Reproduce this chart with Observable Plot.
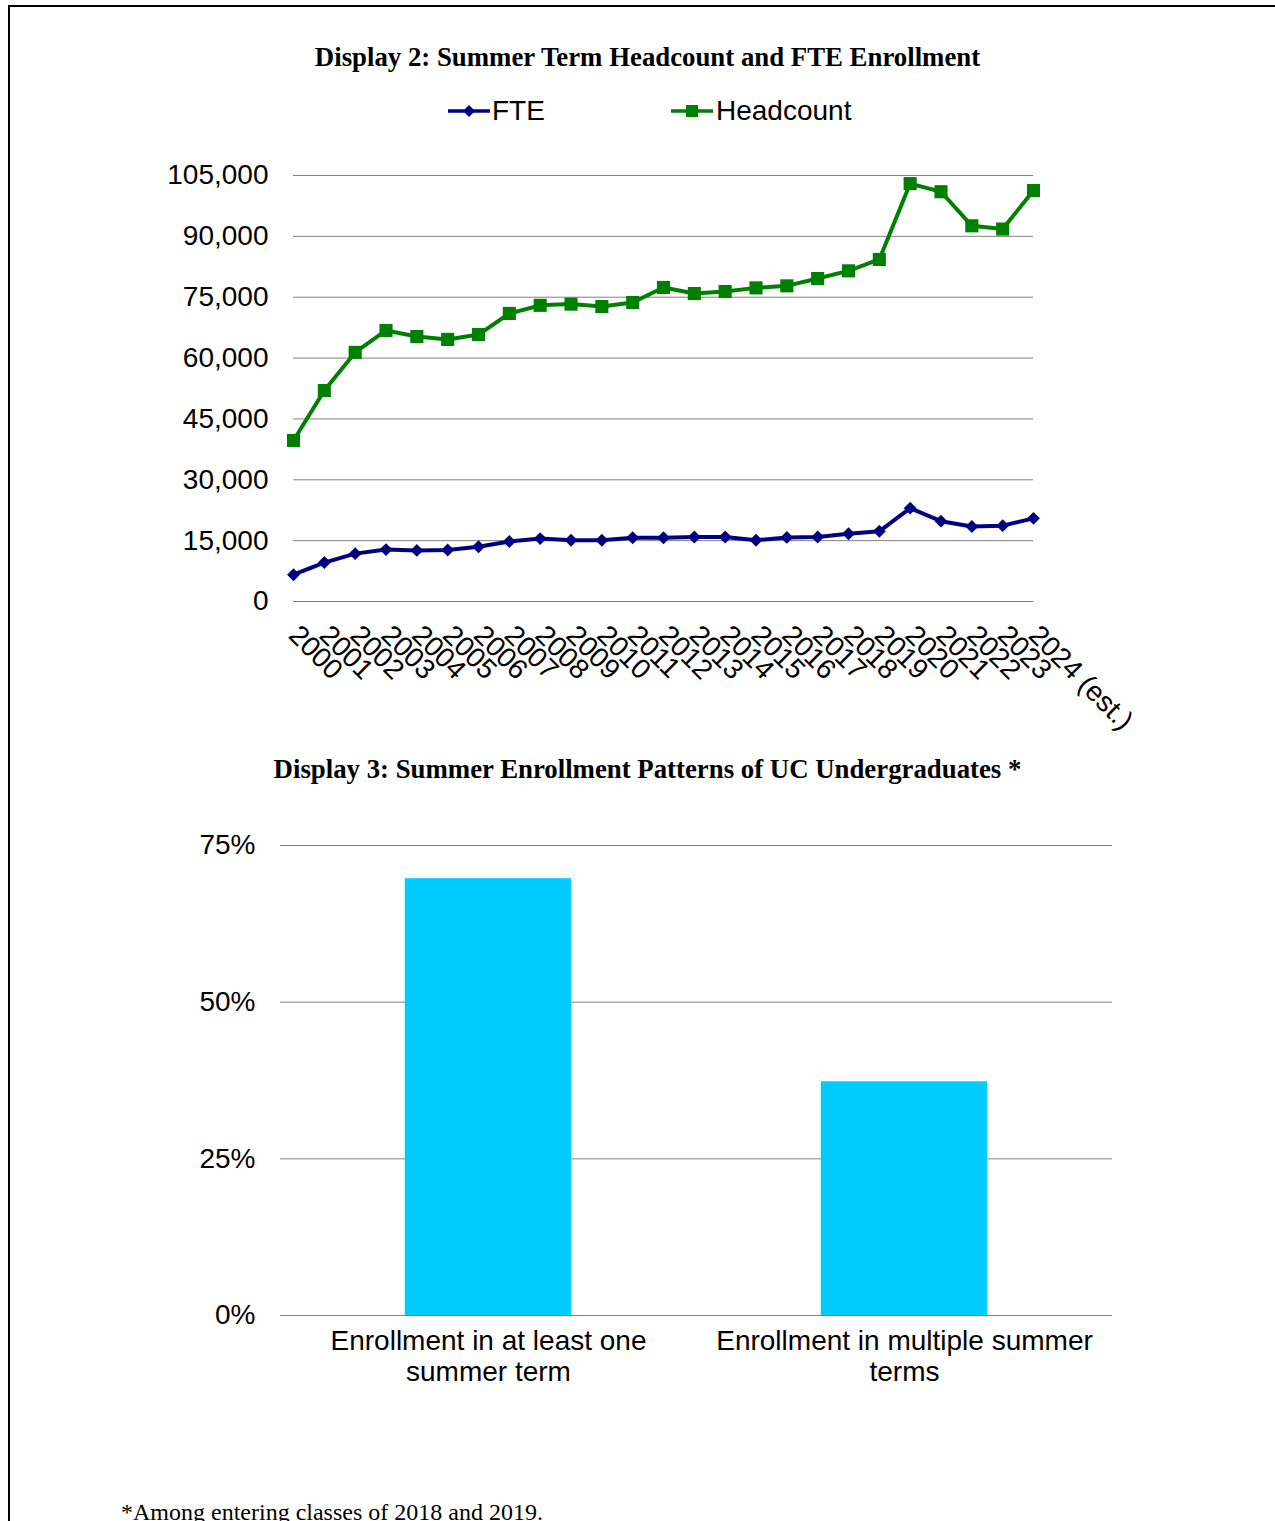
<!DOCTYPE html>
<html>
<head>
<meta charset="utf-8">
<script src="https://cdn.jsdelivr.net/npm/d3@7"></script>
<script src="https://cdn.jsdelivr.net/npm/@observablehq/plot@0.6"></script>
<style>
  body { margin: 0; background: #fff; }
  #page { position: relative; width: 1275px; height: 1521px; overflow: hidden; background: #fff; }
  .title { position: absolute; left: 10px; width: 1275px; text-align: center;
           font-family: "Liberation Serif", "Times New Roman", serif; font-weight: bold;
           font-size: 26.8px; line-height: 1; color: #000; white-space: nowrap; }
  .legtext { position: absolute; font-family: "Liberation Sans", Arial, sans-serif; font-size: 28px;
             line-height: 1; color: #000; white-space: nowrap; }
  .swatch { position: absolute; }
  .chart { position: absolute; left: 0; }
  #foot { position: absolute; left: 121px; top: 1500px; font-family: "Liberation Serif", "Times New Roman", serif;
          font-size: 24px; line-height: 1; color: #000; white-space: nowrap; }
  .bline { position: absolute; background: #000; }
</style>
</head>
<body>
<div id="page">
  <div class="bline" style="left:8px;top:5px;width:1267px;height:2px;"></div>
  <div class="bline" style="left:8px;top:5px;width:2px;height:1516px;"></div>

  <div class="title" style="top:44px;">Display 2: Summer Term Headcount and FTE Enrollment</div>

  <svg class="swatch" style="left:448px;top:101px;" width="44" height="20">
    <line x1="0" y1="10" x2="42" y2="10" stroke="#000080" stroke-width="3.5"/>
    <path d="M21,4 L27,10 L21,16 L15,10 Z" fill="#000080"/>
  </svg>
  <div class="legtext" style="left:492px;top:97px;">FTE</div>
  <svg class="swatch" style="left:671px;top:101px;" width="44" height="20">
    <line x1="0" y1="10" x2="42" y2="10" stroke="#008000" stroke-width="3.5"/>
    <rect x="15" y="4" width="12" height="12" fill="#008000"/>
  </svg>
  <div class="legtext" style="left:716px;top:97px;">Headcount</div>

  <div id="chart1" class="chart" style="top:150px;"></div>

  <div class="title" style="top:756px;">Display 3: Summer Enrollment Patterns of UC Undergraduates *</div>

  <div id="chart2" class="chart" style="top:800px;"></div>

  <div id="foot">*Among entering classes of 2018 and 2019.</div>
</div>

<script>
// ---- Display 2 data ----
const years = ["2000","2001","2002","2003","2004","2005","2006","2007","2008","2009","2010","2011","2012",
               "2013","2014","2015","2016","2017","2018","2019","2020","2021","2022","2023","2024 (est.)"];
const headcount = [39700, 52000, 61400, 66800, 65300, 64600, 65800, 71000, 73000, 73300, 72700, 73700, 77400,
                   75900, 76400, 77300, 77800, 79600, 81500, 84300, 103000, 101000, 92600, 91800, 101300];
const fte = [6600, 9600, 11800, 12800, 12600, 12700, 13500, 14800, 15500, 15100, 15100, 15700, 15700,
             15900, 15900, 15100, 15800, 15900, 16700, 17300, 23000, 19800, 18500, 18700, 20500];
const yTicks1 = [0, 15000, 30000, 45000, 60000, 75000, 90000, 105000];

// ---- Display 3 data ----
const categories = ["Enrollment in at least one summer term", "Enrollment in multiple summer terms"];
const categoryLabels = ["Enrollment in at least one\nsummer term", "Enrollment in multiple summer\nterms"];
const shares = [0.697, 0.373];
const yTicks2 = [0, 0.25, 0.5, 0.75];

const fteData = years.map((y, i) => ({year: y, value: fte[i]}));
const hcData = years.map((y, i) => ({year: y, value: headcount[i]}));
const barData = categories.map((c, i) => ({cat: c, value: shares[i]}));

const baseStyle = {background: "transparent", fontFamily: "'Liberation Sans', Arial, sans-serif",
                   fontSize: "28px", color: "#000", overflow: "visible"};

const chart1 = Plot.plot({
  width: 1275, height: 620,
  marginTop: 25, marginBottom: 169, marginLeft: 293, marginRight: 242,
  style: baseStyle,
  x: {type: "point", domain: years, padding: 0, round: false, label: null},
  y: {domain: [0, 105000], label: null},
  marks: [
    Plot.gridY({ticks: yTicks1, stroke: "#808080", strokeOpacity: 1, strokeWidth: 1}),
    Plot.axisY({ticks: yTicks1, tickSize: 0, tickPadding: 25, tickFormat: d3.format(","), fill: "#000", label: null}),
    Plot.axisX({tickSize: 0, tickPadding: 29, tickRotate: 45, fill: "#000", label: null}),
    Plot.line(fteData, {x: "year", y: "value", stroke: "#000080", strokeWidth: 4}),
    Plot.dot(fteData, {x: "year", y: "value", symbol: "diamond2", r: 5.8, fill: "#000080", stroke: "none"}),
    Plot.line(hcData, {x: "year", y: "value", stroke: "#008000", strokeWidth: 4}),
    Plot.dot(hcData, {x: "year", y: "value", symbol: "square", r: 7.4, fill: "#008000", stroke: "none"})
  ]
});
document.getElementById("chart1").appendChild(chart1);

const labelMap = new Map(categories.map((c, i) => [c, categoryLabels[i]]));
const chart2 = Plot.plot({
  width: 1275, height: 615,
  marginTop: 45, marginBottom: 100, marginLeft: 280, marginRight: 163,
  style: baseStyle,
  x: {type: "band", domain: categories, paddingInner: 0.6, paddingOuter: 0.3, round: false, label: null},
  y: {domain: [0, 0.75], label: null},
  marks: [
    Plot.gridY({ticks: yTicks2, stroke: "#808080", strokeOpacity: 1, strokeWidth: 1}),
    Plot.axisY({ticks: yTicks2, tickSize: 0, tickPadding: 25, tickFormat: d3.format(".0%"), fill: "#000", label: null}),
    Plot.axisX({tickSize: 0, tickPadding: 13, tickFormat: d => labelMap.get(d), lineHeight: 1.1, fill: "#000", label: null}),
    Plot.barY(barData, {x: "cat", y: "value", fill: "#00CCFF"})
  ]
});
document.getElementById("chart2").appendChild(chart2);
</script>
</body>
</html>
